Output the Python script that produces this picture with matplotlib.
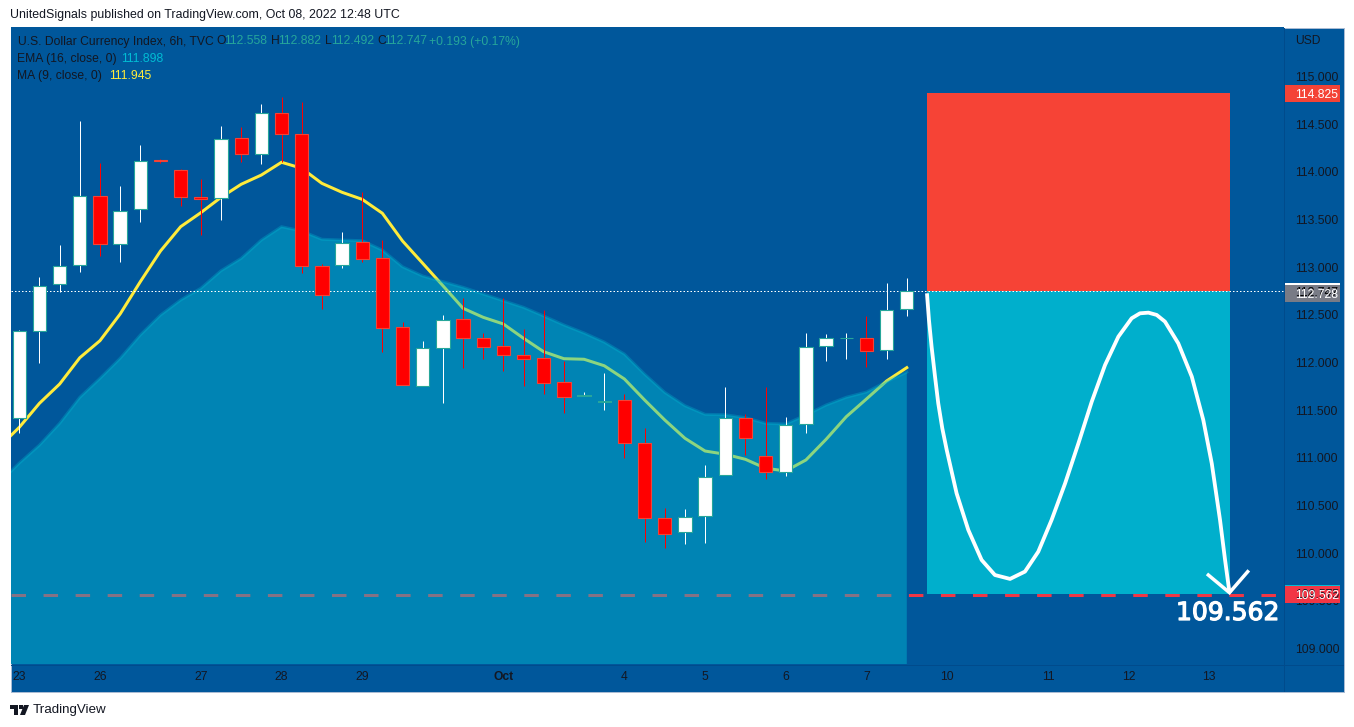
import matplotlib
matplotlib.use("Agg")
import matplotlib.pyplot as plt
import matplotlib.patheffects as pe
from matplotlib.patches import Rectangle, Polygon, Circle
from matplotlib.lines import Line2D

W, H = 1354, 727
PX = 0.72  # one pixel in points at dpi 100
plt.rcParams["font.family"] = "Liberation Sans"
plt.rcParams["lines.scale_dashes"] = False

# ---------- data ----------
opens = [111.413,112.326,112.820,113.019,113.749,113.239,113.607,114.121,114.016,113.739,113.722,114.358,114.184,114.620,114.393,
         113.015,113.019,113.260,113.092,112.368,111.749,112.148,112.452,112.253,112.169,112.075,112.043,111.791,111.644,111.585,
         111.602,111.151,110.364,110.217,110.385,110.819,111.420,111.015,110.847,111.350,112.169,112.253,112.253,112.127,112.558]
highs = [112.340,112.893,113.232,114.533,114.089,113.851,114.281,114.134,114.026,113.921,114.481,114.467,114.711,114.782,114.736,
         113.033,113.368,113.788,113.284,112.424,112.221,112.497,112.679,112.305,112.679,112.347,112.550,112.015,111.689,111.889,
         111.668,111.312,110.472,110.462,110.923,111.742,111.459,111.739,111.427,112.309,112.298,112.309,112.487,112.833,112.882]
lows = [111.262,111.997,112.736,112.952,113.120,113.057,113.476,114.092,113.644,113.337,113.497,114.106,114.085,114.106,112.938,
        112.564,112.994,113.057,112.112,111.760,111.749,111.577,111.944,112.036,111.913,111.756,111.672,111.472,111.644,111.504,
        111.000,110.119,110.056,110.098,110.108,110.819,111.032,110.777,110.811,111.262,112.018,112.039,111.952,112.039,112.492]
closes = [112.326,112.805,113.015,113.749,113.239,113.592,114.116,114.110,113.739,113.711,114.347,114.184,114.620,114.393,113.008,
          112.710,113.256,113.088,112.358,111.760,112.148,112.442,112.253,112.165,112.075,112.039,111.781,111.640,111.658,111.598,
          111.151,110.364,110.196,110.381,110.801,111.420,111.204,110.847,111.346,112.165,112.259,112.253,112.117,112.553,112.747]
ma_values = [111.112,111.319,111.571,111.773,112.049,112.228,112.508,112.847,113.169,113.424,113.571,113.732,113.869,113.966,114.100,114.037,
             113.879,113.785,113.711,113.565,113.274,113.040,112.805,112.568,112.473,112.403,112.253,112.112,112.039,112.033,111.965,
             111.826,111.606,111.396,111.204,111.070,111.036,110.983,110.889,110.861,110.976,111.193,111.430,111.616,111.805,111.945]
ema_values = [110.735,110.944,111.133,111.361,111.634,111.833,112.043,112.288,112.497,112.655,112.778,112.962,113.092,113.284,113.424,113.379,
              113.292,113.284,113.277,113.179,113.004,112.907,112.847,112.788,112.718,112.647,112.578,112.487,112.393,112.309,112.214,
              112.088,111.878,111.686,111.546,111.455,111.451,111.420,111.361,111.354,111.448,111.553,111.634,111.689,111.798,111.898]
curve_bars = [45.00,45.10,45.23,45.40,45.56,45.76,45.98,46.47,47.05,47.71,48.37,49.12,49.86,50.52,51.18,51.85,52.51,53.17,53.83,54.49,55.15,55.56,55.98,56.39,56.80,57.46,58.13,58.70,59.12,59.53,59.78,60.00]
curve_prices = [112.725,112.445,112.165,111.851,111.571,111.309,111.081,110.626,110.242,109.927,109.769,109.728,109.805,110.014,110.347,110.731,111.151,111.588,111.973,112.270,112.463,112.515,112.522,112.498,112.428,112.200,111.851,111.396,110.941,110.347,109.927,109.584]
arrow_bars = [58.95, 60.00, 60.90]
arrow_prices = [109.769, 109.584, 109.804]
stop_price, entry_price, target_price, last_price, dashed_price = 114.825, 112.747, 109.575, 112.747, 109.562
box_bars = (45, 60)
x_tick_bars = [0, 4, 9, 13, 17, 24, 30, 34, 38, 42, 46, 51, 55, 59]
x_tick_labels = ["23", "26", "27", "28", "29", "Oct", "4", "5", "6", "7", "10", "11", "12", "13"]
y_ticks = [109.0, 109.5, 110.0, 110.5, 111.0, 111.5, 112.0, 112.5, 113.0, 113.5, 114.0, 114.5, 115.0]
tag_prices = [114.825, 112.747, 112.728, 109.575, 109.562]
tag_fills = ["#F44336", "#FFFFFF", "#787B86", "#00BCD4", "#F23645"]
tag_texts = ["#FFFFFF", "#000000", "#FFFFFF", "#131722", "#FFFFFF"]

BG = "#00579B"; INK = "#131722"; TEAL = "#26A69A"
bars = list(range(len(opens)))
line_bars = list(range(-1, len(opens)))

fig = plt.figure(figsize=(W / 100, H / 100), dpi=100, facecolor="white")
fx = lambda p: p / W
fy = lambda p: 1 - p / H

# frame background + border
fig.add_artist(Rectangle((fx(10.5), fy(691.5)), fx(1333), 692 / H - 28 / H + 0.0 if False else 664 / H,
                         transform=fig.transFigure, fc=BG, ec="#A9BBD3", lw=PX, zorder=-1))

ax = fig.add_axes([fx(11), fy(664), fx(1273), 637 / H], facecolor=BG, zorder=1)
ax.set_xlim((11 - 19.3) / 20.17, (1284 - 19.3) / 20.17)
ax.set_ylim(115 - (664 - 76.5) / 95.3, 115 + (76.5 - 27) / 95.3)
for s in ax.spines.values():
    s.set_visible(False)

# under the EMA fill
ax.axhline(dashed_price, color="#F23645", lw=3 * PX, ls=(0, (14.5 * PX, 17.55 * PX)), dash_capstyle="butt", zorder=1)
ax.plot(line_bars, ma_values, color="#FFEB3B", lw=3 * PX, zorder=1.5, solid_joinstyle="round")
ax.fill_between(line_bars, ema_values, 100, color="#00BCD4", alpha=0.45, lw=0, zorder=2)
ax.plot(line_bars, ema_values, color="#00BCD4", alpha=0.3, lw=3 * PX, zorder=2.1)

# position boxes
ax.fill_between(box_bars, entry_price, stop_price, color="#F64336", lw=0, zorder=2.3)
ax.fill_between(box_bars, target_price, entry_price, color="#00AFCC", lw=0, zorder=2.3)
ax.axhline(last_price, color="white", lw=1 * PX, ls=(0, (1.5 * PX, 2 * PX)), zorder=2.5)

# candles
up = [c >= o for o, c in zip(opens, closes)]
ax.vlines(bars, lows, highs, colors=["#FFFFFF" if u else "#FF0000" for u in up], lw=1 * PX, zorder=3)
ax.bar(bars, [abs(c - o) for o, c in zip(opens, closes)], bottom=[min(o, c) for o, c in zip(opens, closes)],
       width=0.66, color=["#FFFFFF" if u else "#FF0000" for u in up],
       edgecolor=[TEAL if u else "#F44336" for u in up], lw=1.1 * PX, zorder=4)

# forecast curve
ax.plot(curve_bars, curve_prices, color="white", lw=3.8 * PX, zorder=5, solid_joinstyle="round", solid_capstyle="butt")
ax.plot(arrow_bars, arrow_prices, color="white", lw=3.5 * PX, zorder=5, solid_joinstyle="miter", clip_on=False)

# axes
ax.yaxis.tick_right()
ax.set_yticks(y_ticks, [f"{v:.3f}" for v in y_ticks])
ax.set_xticks(x_tick_bars, x_tick_labels)
ax.tick_params(axis="y", length=0, pad=11 * PX, labelsize=8.7, labelcolor=INK)
ax.tick_params(axis="x", length=0, pad=7 * PX, labelsize=8.7, labelcolor=INK)
for t in ax.get_xticklabels():
    if t.get_text() == "Oct":
        t.set_fontweight("bold")

# price tags on the scale
tag_x0 = (1284 - 19.3) / 20.17
tag_w = 56 / 20.17
tag_xt = (1295 - 19.3) / 20.17
tag_h = 17 / 95.3
for p, f, c in zip(tag_prices, tag_fills, tag_texts):
    ax.add_patch(Rectangle((tag_x0, p - tag_h / 2), tag_w, tag_h, fc=f, ec="none", clip_on=False, zorder=10))
    ax.text(tag_xt, p, f"{p:.3f}", color=c, fontsize=8.7, va="center_baseline", ha="left", clip_on=False, zorder=11)

# separators
sep = "#004B8C"
fig.add_artist(Line2D([fx(1284), fx(1284)], [fy(691), fy(27.5)], color=sep, lw=PX, zorder=2))
fig.add_artist(Line2D([fx(11), fx(1343)], [fy(664.5), fy(664.5)], color=sep, lw=PX, zorder=2))


def label(px, py, s, color=INK, size=8.7, **kw):
    return fig.text(fx(px), fy(py), s, color=color, fontsize=size, va="center", ha="left", zorder=12, **kw)


label(10, 15, "UnitedSignals published on TradingView.com, Oct 08, 2022 12:48 UTC", size=8.9)
label(17.5, 41.5, "U.S. Dollar Currency Index, 6h, TVC")
for px, s, c in [(216, "O", INK), (224, "112.558", TEAL), (271, "H", INK), (278, "112.882", TEAL),
                 (325, "L", INK), (331, "112.492", TEAL), (377, "C", INK), (384, "112.747", TEAL),
                 (429, "+0.193 (+0.17%)", TEAL)]:
    label(px, 41.5, s, c)
label(17, 59, "EMA (16, close, 0)")
label(121, 59, "111.898", "#00BCD4")
label(17, 76, "MA (9, close, 0)")
label(109, 76, "111.945", "#FFEB3B")
label(1295, 41, "USD")

big = fig.text(fx(1176), fy(613), "109.562", color="white", fontsize=18, family="DejaVu Sans",
               va="center", ha="left", zorder=12)
big.set_path_effects([pe.withStroke(linewidth=0.9, foreground="white")])

# TradingView mark
for art in [Polygon([(fx(10), fy(705)), (fx(18), fy(705)), (fx(18), fy(715)), (fx(14), fy(715)), (fx(14), fy(709)), (fx(10), fy(709))],
                    closed=True, fc=INK, ec="none", transform=fig.transFigure),
            Polygon([(fx(24), fy(705)), (fx(29), fy(705)), (fx(25), fy(715)), (fx(20), fy(715))],
                    closed=True, fc=INK, ec="none", transform=fig.transFigure)]:
    fig.add_artist(art)
fig.add_artist(Polygon([(fx(19), fy(705)), (fx(22.5), fy(705)), (fx(22.5), fy(709)), (fx(19), fy(709))],
                       closed=True, fc=INK, ec="none", transform=fig.transFigure))
label(32.5, 709.5, "TradingView", size=9.6)

fig.savefig("out.png", dpi=100, facecolor="white")
